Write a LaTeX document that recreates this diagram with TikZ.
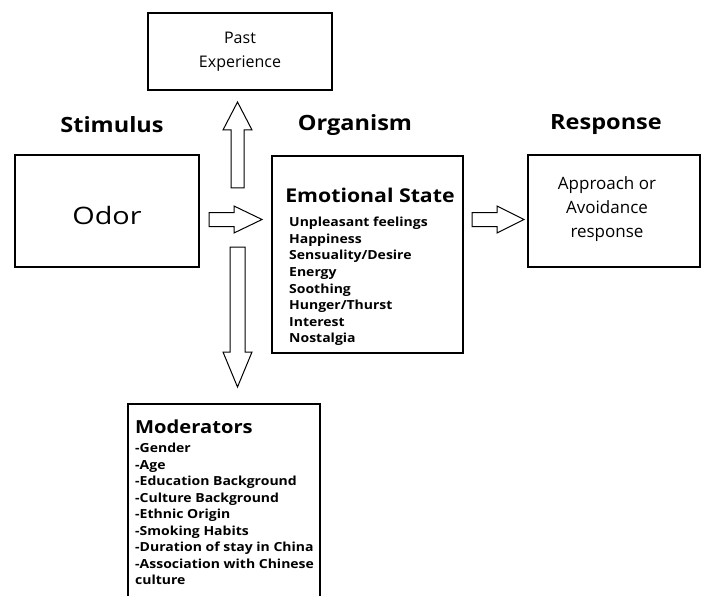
\documentclass[tikz,border=0pt]{standalone}
\usepackage{fontspec}
\setmainfont{Open Sans}
\newfontfamily\wide{Open Sans}[FakeStretch=1.12]
\newfontfamily\semib{Open Sans}[FakeStretch=1.2]
\begin{document}
\begin{tikzpicture}[x=1pt,y=-1pt,
  box/.style={draw,line width=1.5pt,minimum width=#1,inner sep=0pt},
  head/.style={font=\fontsize{21}{24}\wide\bfseries},
  blk/.style={draw,line width=1pt,fill=white,line join=miter}]
\useasboundingbox (0,0) rectangle (701,596);
% boxes
\node[box=184pt,minimum height=77pt] (past) at (240,51.5) {};
\node[box=184pt,minimum height=112pt] (odor) at (107,211) {};
\node[box=191pt,minimum height=197pt] (emo) at (367.5,254.5) {};
\node[box=172pt,minimum height=112pt] (resp) at (614,211) {};
\node[box=192pt,minimum height=200pt] (mod) at (224,504) {};
% headings
\node[head] (hs) at (112,125) {Stimulus};
\node[head] (ho) at (355,125) {Organism};
\node[head] (hr) at (606,125) {Response};
% box texts
\node[align=center,font=\fontsize{16}{24}\selectfont] (pt) at (past.center) {Past\\Experience};
\node[font=\fontsize{24}{26}\semib] (ot) at (107,215) {Odor};
\node[align=center,font=\fontsize{17}{24}\selectfont] (rt) at (607,209) {Approach or\\Avoidance\\response};
\node[font=\fontsize{19}{22}\wide\bfseries] (et) at (370,195) {Emotional State};
\node[anchor=north west,align=left,inner sep=0pt,font=\fontsize{12.5}{16.6}\wide\bfseries] (el) at (289,217)
 {Unpleasant feelings\\Happiness\\Sensuality/Desire\\Energy\\Soothing\\Hunger/Thurst\\Interest\\Nostalgia};
\node[anchor=north west,inner sep=0pt,font=\fontsize{18}{22}\wide\bfseries] (mt) at (135,420) {Moderators};
\node[anchor=north west,align=left,inner sep=0pt,font=\fontsize{12.5}{16.5}\wide\bfseries] (ml) at (135,443)
 {-Gender\\-Age\\-Education Background\\-Culture Background\\-Ethnic Origin\\-Smoking Habits\\-Duration of stay in China\\-Association with Chinese\\culture};
% block arrows
\draw[blk] (209,212.5) -- (234,212.5) -- (234,206) -- (262,219.5) -- (234,233) -- (234,226.5) -- (209,226.5) -- cycle;
\draw[blk] (472,212.5) -- (497,212.5) -- (497,206) -- (524,219.5) -- (497,233) -- (497,226.5) -- (472,226.5) -- cycle;
\draw[blk] (231,188) -- (231,130) -- (223,130) -- (237.5,102) -- (252,130) -- (244,130) -- (244,188) -- cycle;
\draw[blk] (230,247) -- (230,352) -- (223,352) -- (237.5,387) -- (252,352) -- (245,352) -- (245,247) -- cycle;
\end{tikzpicture}
\end{document}
